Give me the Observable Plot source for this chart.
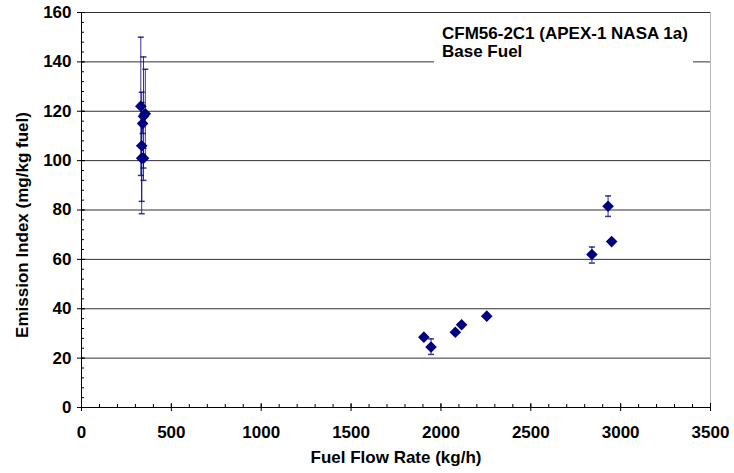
<!DOCTYPE html>
<html><head><meta charset="utf-8">
<script src="https://cdn.jsdelivr.net/npm/d3@7"></script>
<script src="https://cdn.jsdelivr.net/npm/@observablehq/plot@0.6"></script>
<style>
body{margin:0;background:#fff;}
#wrap{position:relative;width:734px;height:473px;}
#note{position:absolute;left:434px;top:25px;width:259px;height:42px;background:#fff;
  font:bold 17px "Liberation Sans",Arial,sans-serif;line-height:18px;padding-left:8px;box-sizing:border-box;color:#000;white-space:nowrap;}
#note div{height:18px;}
</style></head><body>
<div id="wrap"><div id="note"></div></div>
<script>
// ---- data ----
const flowRate = [330, 335, 345, 355, 335, 340, 345, 1905, 1945, 2080, 2115, 2255, 2840, 2930, 2950];
const emissionIndex = [122, 101, 118, 119, 106, 115, 101, 28.5, 24.5, 30.5, 33.5, 37, 62, 81.5, 67.2];
const eiLow  = [94, 78.5, 92, 101, 83.5, 111, 97, null, 21.5, null, null, null, 58.5, 77.4, null];
const eiHigh = [150, 123.5, 142, 137, 127.7, 119, 105, null, 27.8, null, null, null, 65, 85.7, null];
const xTicks = [0, 500, 1000, 1500, 2000, 2500, 3000, 3500];
const yTicks = [0, 20, 40, 60, 80, 100, 120, 140, 160];
const xMinor = d3.range(0, 3501, 100);
const yMinor = d3.range(0, 161, 4);
const titleLines = ["CFM56-2C1 (APEX-1 NASA 1a)", "Base Fuel"];
const xTitle = "Fuel Flow Rate (kg/h)";
const yTitle = "Emission Index (mg/kg fuel)";

const rows = flowRate.map((x, i) => ({x, y: emissionIndex[i], lo: eiLow[i], hi: eiHigh[i]}));
const errRows = rows.filter(d => d.lo != null);

const navy = "#000080";
const diamond = {draw(ctx, size) { const r = Math.sqrt(size / Math.PI); ctx.moveTo(0, -r); ctx.lineTo(r, 0); ctx.lineTo(0, r); ctx.lineTo(-r, 0); ctx.closePath(); }};
const cap = {draw(ctx, size) { const r = Math.sqrt(size / Math.PI); ctx.moveTo(-r, 0); ctx.lineTo(r, 0); }};

const note = document.getElementById("note");
titleLines.forEach(t => { const d = document.createElement("div"); d.textContent = t; note.appendChild(d); });

const chart = Plot.plot({
  width: 734, height: 473,
  marginLeft: 81, marginRight: 24, marginTop: 12, marginBottom: 66,
  style: {fontFamily: "'Liberation Sans', Arial, sans-serif", fontSize: "17px", fontWeight: "bold", color: "#000", background: "#fff"},
  x: {domain: [0, 3500]},
  y: {domain: [0, 160]},
  marks: [
    Plot.gridY(yTicks.filter(v => v > 0), {stroke: "#303030", strokeOpacity: 1}),
    Plot.ruleX([3500], {stroke: "#b8b8b8"}),
    Plot.axisY(yMinor, {tickSize: -3, tickFormat: () => "", label: null, stroke: "#000"}),
    Plot.axisY(yTicks, {tickSize: 4, tickPadding: 6, tickFormat: d => String(d), label: null, stroke: "#000"}),
    Plot.axisY(yTicks, {tickSize: -4, tickFormat: () => "", label: null, stroke: "#000"}),
    Plot.axisX(xMinor, {tickSize: -3, tickFormat: () => "", label: null, stroke: "#000"}),
    Plot.axisX(xTicks, {tickSize: 4, tickPadding: 14, tickFormat: d => String(d), label: null, stroke: "#000"}),
    Plot.axisX(xTicks, {tickSize: -4, tickFormat: () => "", label: null, stroke: "#000"}),
    Plot.ruleY([0], {stroke: "#000"}),
    Plot.ruleX([0], {stroke: "#000"}),
    Plot.ruleX(errRows, {x: "x", y1: "lo", y2: "hi", stroke: navy, strokeOpacity: 0.8}),
    Plot.dot(errRows, {x: "x", y: "lo", symbol: cap, r: 3, stroke: navy, fill: "none", strokeOpacity: 0.8}),
    Plot.dot(errRows, {x: "x", y: "hi", symbol: cap, r: 3, stroke: navy, fill: "none", strokeOpacity: 0.8}),
    Plot.dot(rows, {x: "x", y: "y", symbol: diamond, r: 5.8, fill: navy, stroke: "none"}),
    Plot.text([xTitle], {frameAnchor: "bottom", dy: 55, fontWeight: "bold"}),
    Plot.text([yTitle], {frameAnchor: "left", textAnchor: "middle", rotate: -90, dx: -59, dy: 15, fontWeight: "bold"})
  ]
});
document.getElementById("wrap").prepend(chart);
</script>
</body></html>
